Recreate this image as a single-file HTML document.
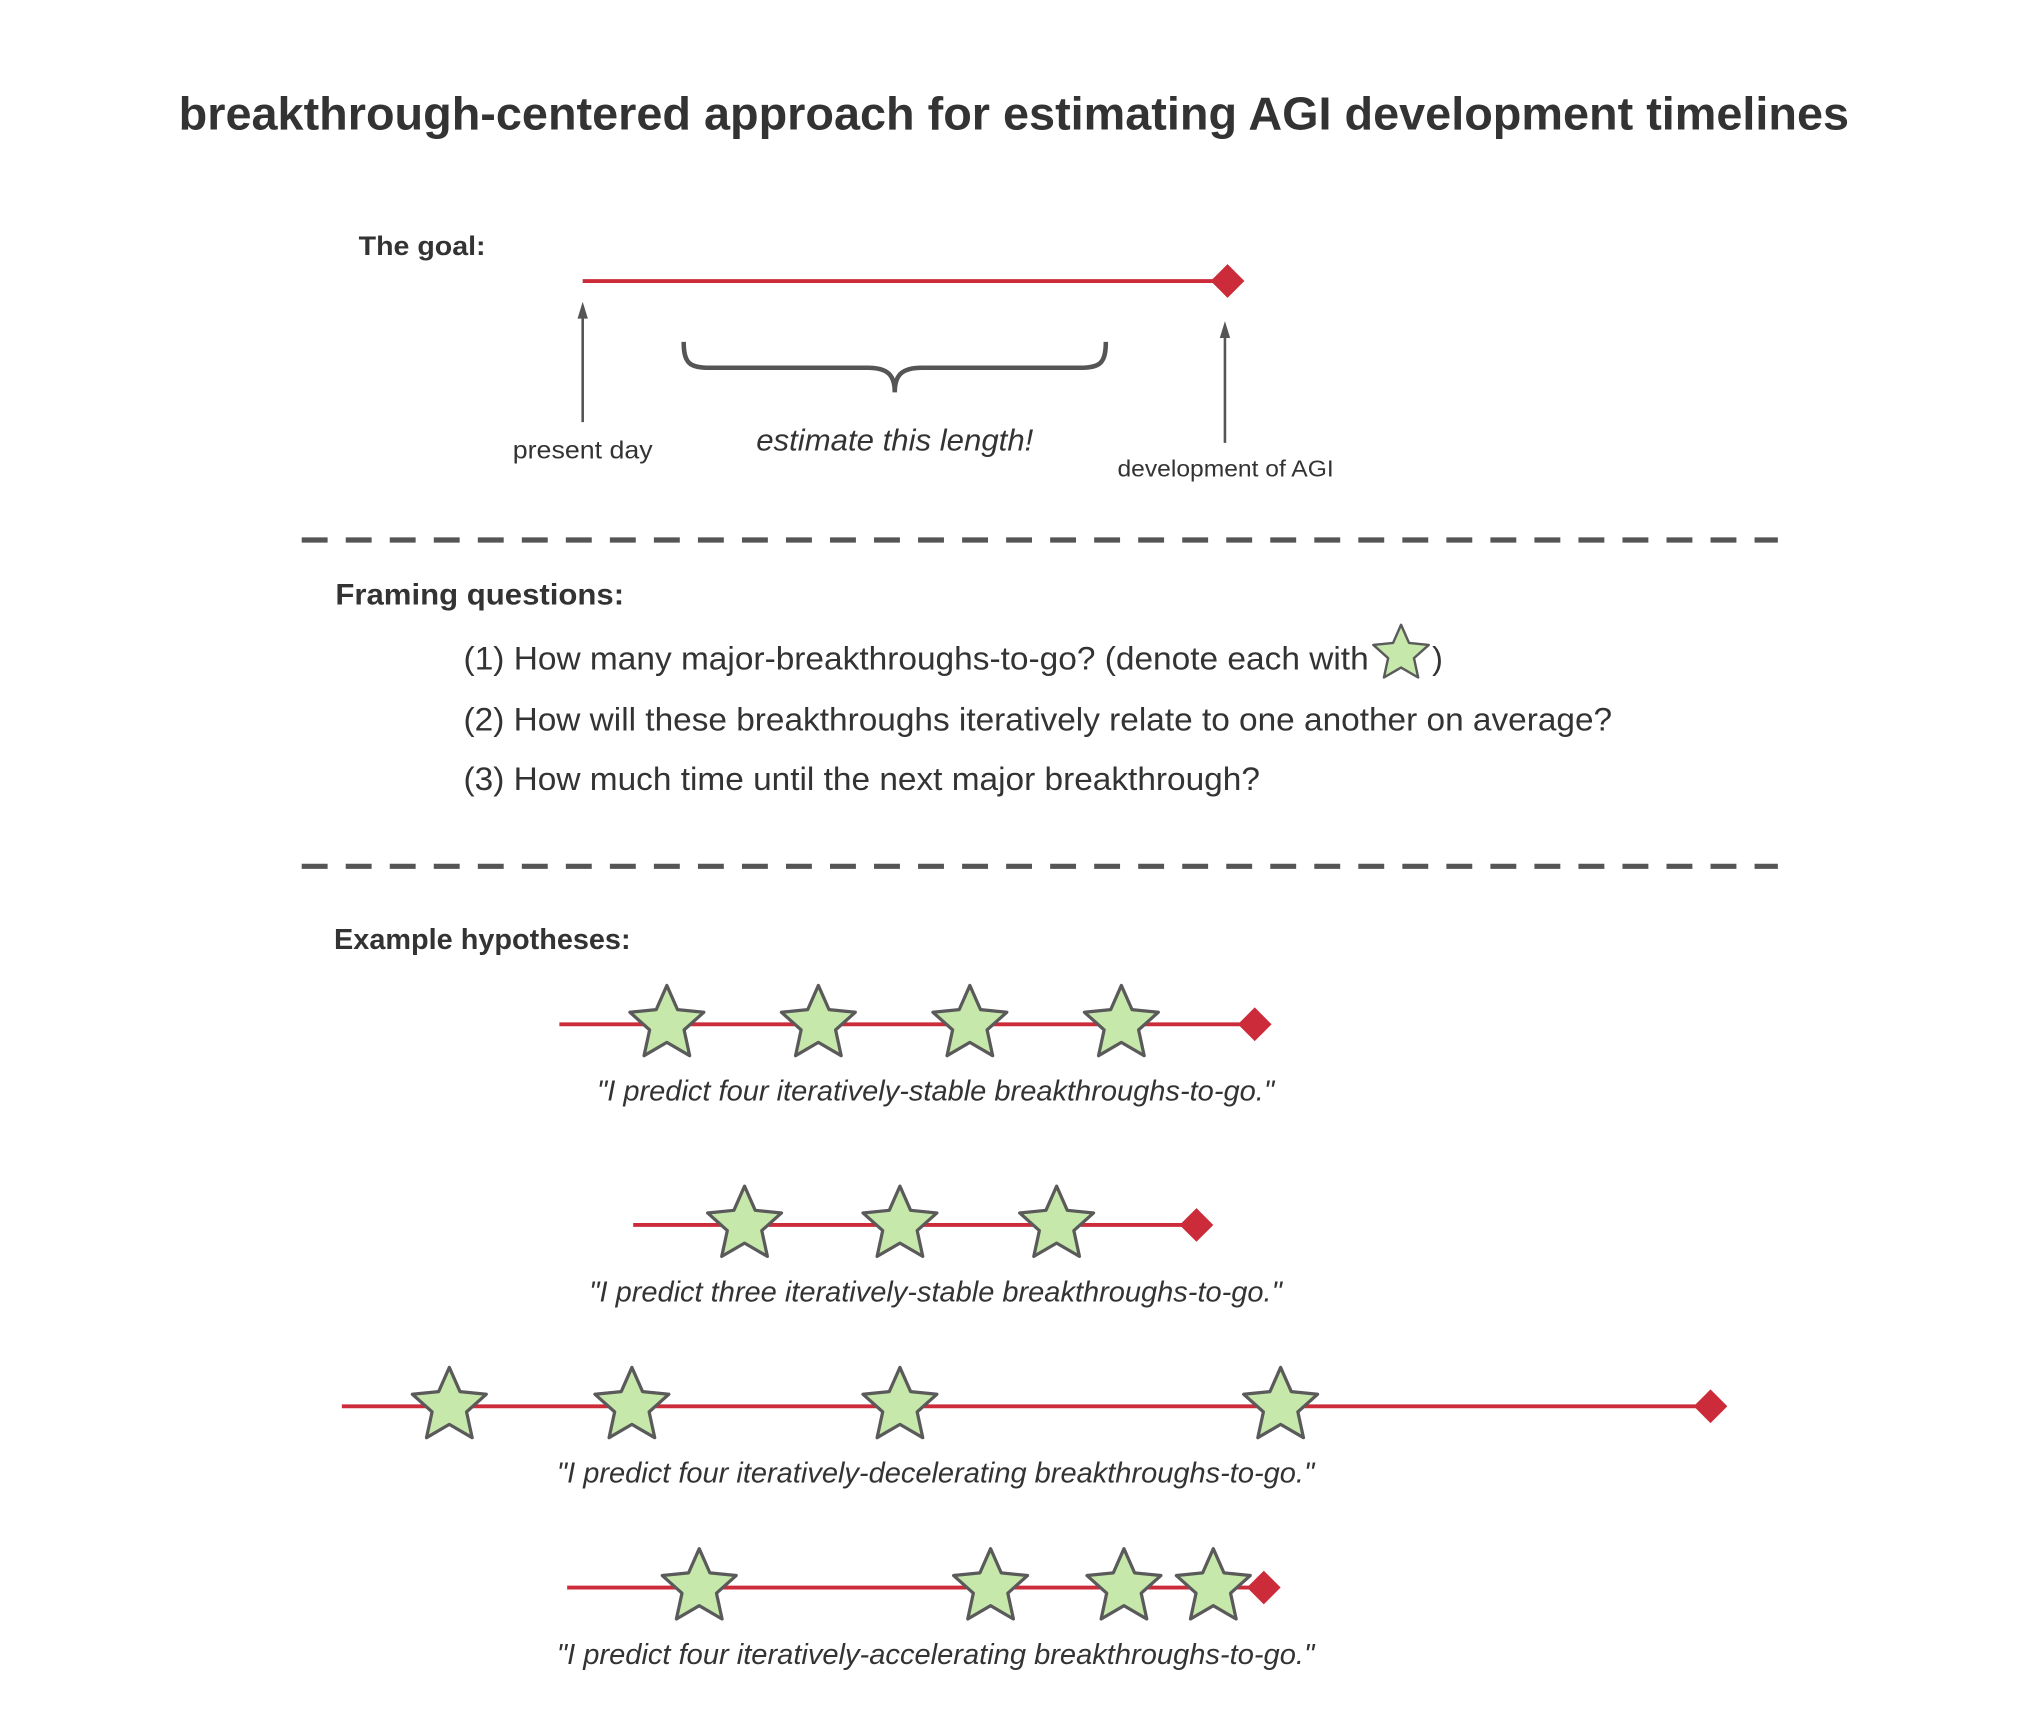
<!DOCTYPE html>
<html><head><meta charset="utf-8"><style>html,body{margin:0;padding:0;background:#fff}svg{display:block}</style></head>
<body>
<svg width="2020" height="1730" viewBox="0 0 1560 1336" xmlns="http://www.w3.org/2000/svg" font-family="Liberation Sans, Arial, sans-serif" fill="#333">
<defs>
<path id="star" d="M0,-30 L8.23,-11.33 L28.53,-9.27 L13.31,4.33 L17.63,24.27 L0,14 L-17.63,24.27 L-13.31,4.33 L-28.53,-9.27 L-8.23,-11.33 Z" fill="#c7e8ab" stroke="#5a5a5a" stroke-width="2.5" stroke-linejoin="round"/>
<path id="dia" d="M0,-13 L13,0 L0,13 L-13,0 Z" fill="#cc2b3a"/>
</defs>
<text x="138" y="100" font-size="36" font-weight="bold" textLength="1290" lengthAdjust="spacingAndGlyphs">breakthrough-centered approach for estimating AGI development timelines</text>

<text x="277" y="197" font-size="21" font-weight="bold" textLength="98" lengthAdjust="spacingAndGlyphs">The goal:</text>
<line x1="450" y1="217" x2="940" y2="217" stroke="#cc2b3a" stroke-width="3"/>
<use href="#dia" x="948" y="217"/>
<line x1="450" y1="326" x2="450" y2="244" stroke="#555" stroke-width="2"/>
<path d="M450,233 L454,246 L446,246 Z" fill="#555"/>
<line x1="946" y1="342" x2="946" y2="259" stroke="#555" stroke-width="2"/>
<path d="M946,248 L950,261 L942,261 Z" fill="#555"/>
<path d="M528,264 C528,280 532,284 548,284 L670,284 C686,284 691,290 691,303 C691,290 696,284 712,284 L834,284 C850,284 854,280 854,264" fill="none" stroke="#555" stroke-width="3.5"/>
<text x="396" y="354" font-size="19" textLength="108" lengthAdjust="spacingAndGlyphs">present day</text>
<text x="584" y="348" font-size="23.5" font-style="italic" textLength="214" lengthAdjust="spacingAndGlyphs">estimate this length!</text>
<text x="863" y="368" font-size="18" textLength="167" lengthAdjust="spacingAndGlyphs">development of AGI</text>

<line x1="233" y1="417" x2="1373" y2="417" stroke="#555" stroke-width="4" stroke-dasharray="20,14"/>
<text x="259" y="467" font-size="23" font-weight="bold" textLength="223" lengthAdjust="spacingAndGlyphs">Framing questions:</text>
<text x="358" y="517" font-size="25" textLength="699" lengthAdjust="spacingAndGlyphs">(1) How many major-breakthroughs-to-go? (denote each with</text>
<text x="1106" y="517" font-size="25">)</text>
<use href="#star" transform="translate(1082,505) scale(0.75)"/>
<text x="358" y="564" font-size="25" textLength="887" lengthAdjust="spacingAndGlyphs">(2) How will these breakthroughs iteratively relate to one another on average?</text>
<text x="358" y="610" font-size="25" textLength="615" lengthAdjust="spacingAndGlyphs">(3) How much time until the next major breakthrough?</text>
<line x1="233" y1="669" x2="1373" y2="669" stroke="#555" stroke-width="4" stroke-dasharray="20,14"/>

<text x="258" y="733" font-size="22" font-weight="bold" textLength="229" lengthAdjust="spacingAndGlyphs">Example hypotheses:</text>
<g stroke="#cc2b3a" stroke-width="3">
<line x1="432" y1="791" x2="960" y2="791"/>
<line x1="489" y1="946" x2="915" y2="946"/>
<line x1="264" y1="1086" x2="1312" y2="1086"/>
<line x1="438" y1="1226" x2="967" y2="1226"/>
</g>
<use href="#dia" x="969" y="791"/>
<use href="#dia" x="924" y="946"/>
<use href="#dia" x="1321" y="1086"/>
<use href="#dia" x="976" y="1226"/>
<use href="#star" x="515" y="791"/><use href="#star" x="632" y="791"/><use href="#star" x="749" y="791"/><use href="#star" x="866" y="791"/>
<use href="#star" x="575" y="946"/><use href="#star" x="695" y="946"/><use href="#star" x="816" y="946"/>
<use href="#star" x="347" y="1086"/><use href="#star" x="488" y="1086"/><use href="#star" x="695" y="1086"/><use href="#star" x="989" y="1086"/>
<use href="#star" x="540" y="1226"/><use href="#star" x="765" y="1226"/><use href="#star" x="868" y="1226"/><use href="#star" x="937" y="1226"/>
<g font-size="22" font-style="italic" lengthAdjust="spacingAndGlyphs">
<text x="461" y="850" textLength="523" lengthAdjust="spacingAndGlyphs">"I predict four iteratively-stable breakthroughs-to-go."</text>
<text x="455" y="1005" textLength="535" lengthAdjust="spacingAndGlyphs">"I predict three iteratively-stable breakthroughs-to-go."</text>
<text x="430" y="1145" textLength="585" lengthAdjust="spacingAndGlyphs">"I predict four iteratively-decelerating breakthroughs-to-go."</text>
<text x="430" y="1285" textLength="585" lengthAdjust="spacingAndGlyphs">"I predict four iteratively-accelerating breakthroughs-to-go."</text>
</g>
</svg>
</body></html>
